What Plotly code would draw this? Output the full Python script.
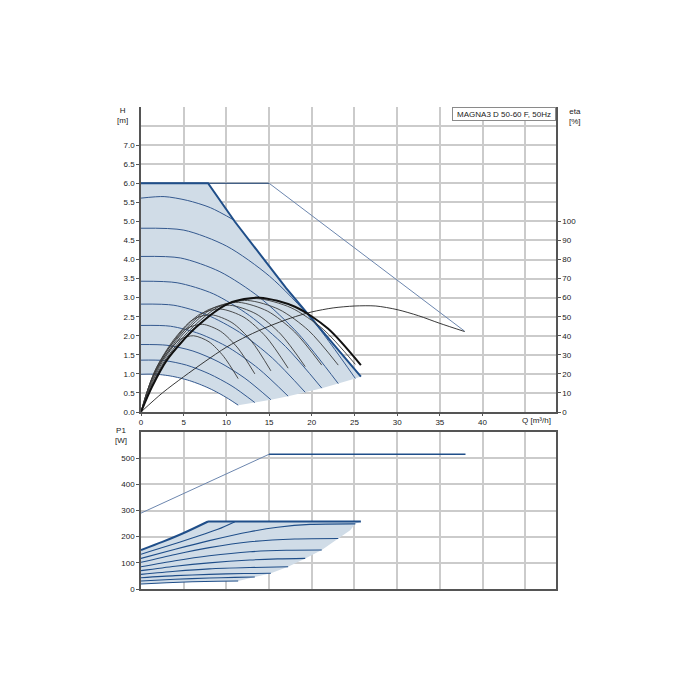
import plotly.graph_objects as go

# ---------------- DATA ----------------
# H-Q speed curves (Q in m3/h, H in m)
q_h561 = [0, 2.71, 5.42, 8.12, 11.0]
h_h561 = [5.61, 5.65, 5.55, 5.36, 5.02]
q_h482 = [0, 5.02, 10.04, 15.06, 20.08, 25.1]
h_h482 = [4.82, 4.77, 4.35, 3.56, 2.41, 0.88]
q_h408 = [0, 4.62, 9.24, 13.86, 18.48, 23.1]
h_h408 = [4.08, 4.04, 3.68, 3.01, 2.04, 0.745]
q_h343 = [0, 4.23, 8.47, 12.70, 16.94, 21.17]
h_h343 = [3.43, 3.39, 3.10, 2.53, 1.715, 0.626]
q_h283 = [0, 3.85, 7.69, 11.54, 15.38, 19.23]
h_h283 = [2.83, 2.80, 2.55, 2.09, 1.415, 0.517]
q_h227 = [0, 3.45, 6.89, 10.34, 13.78, 17.23]
h_h227 = [2.27, 2.25, 2.05, 1.68, 1.135, 0.415]
q_h177 = [0, 3.04, 6.08, 9.13, 12.17, 15.21]
h_h177 = [1.77, 1.75, 1.60, 1.31, 0.885, 0.323]
q_h136 = [0, 2.67, 5.33, 8.0, 10.66, 13.33]
h_h136 = [1.36, 1.35, 1.23, 1.00, 0.68, 0.248]
q_h099 = [0, 1.14, 2.28, 3.41, 4.55, 5.69, 6.83, 7.97, 9.10, 10.24, 11.38]
h_h099 = [0.99, 0.994, 0.98, 0.946, 0.893, 0.822, 0.731, 0.623, 0.495, 0.347, 0.18]

# max curve (constant 6 m, then power limit)
q_max = [0, 7.85, 11.0, 14.0, 17.0, 20.0, 23.0, 25.75]
h_max = [6.0, 6.0, 4.99, 4.12, 3.25, 2.45, 1.67, 0.93]
# lower (max-flow) boundary of the operating area
q_low = [25.75, 25.1, 23.1, 21.17, 19.23, 17.23, 15.21, 13.33, 11.38]
h_low = [0.93, 0.88, 0.745, 0.626, 0.517, 0.415, 0.323, 0.248, 0.18]

# 60 Hz / extended curve
q_ext = [0, 15.0, 37.9]
h_ext = [6.0, 6.0, 2.12]

# efficiency curves, eta in %
q_e1 = [0, 0.57, 1.37, 2.85, 4.55, 6.15, 7.97, 9.67, 11.38]
e_e1 = [0, 8.8, 18.4, 29.6, 38.0, 40.0, 36.8, 29.2, 17.5]
q_e2 = [0, 0.67, 1.6, 3.33, 5.33, 7.2, 9.33, 11.33, 13.33]
e_e2 = [0, 10.1, 21.2, 34.0, 43.7, 46.0, 42.3, 33.6, 20.0]
q_e3 = [0, 0.76, 1.83, 3.8, 6.08, 8.21, 10.65, 12.93, 15.21]
e_e3 = [0, 11.2, 23.5, 37.7, 48.5, 51.0, 46.9, 37.2, 21.6]
q_e4 = [0, 0.86, 2.07, 4.31, 6.89, 9.3, 12.06, 14.65, 17.23]
e_e4 = [0, 11.9, 24.8, 40.0, 51.3, 54.0, 49.7, 39.4, 23.0]
q_e5 = [0, 0.96, 2.31, 4.81, 7.69, 10.38, 13.46, 16.35, 19.23]
e_e5 = [0, 12.3, 25.8, 41.4, 53.2, 56.0, 51.5, 40.9, 23.8]
q_e6 = [0, 1.06, 2.54, 5.29, 8.47, 11.43, 14.82, 17.99, 21.17]
e_e6 = [0, 12.7, 26.5, 42.6, 54.6, 57.5, 52.9, 42.0, 24.6]
q_e7 = [0, 1.16, 2.77, 5.78, 9.24, 12.47, 16.17, 19.64, 23.1]
e_e7 = [0, 12.9, 26.9, 43.3, 55.6, 58.5, 53.8, 42.7, 24.6]
q_e8 = [0, 1.26, 3.01, 6.28, 10.04, 13.55, 17.57, 21.34, 25.1]
e_e8 = [0, 13.1, 27.4, 44.0, 56.5, 59.5, 54.7, 43.4, 25.0]
q_emax = [0, 1.29, 3.09, 6.44, 10.3, 13.9, 18.03, 21.89, 25.75]
e_emax = [0, 13.2, 27.6, 44.4, 57.0, 60.0, 55.2, 43.8, 24.6]
q_eext = [0, 2.5, 5, 7.5, 10, 12.5, 15, 17.5, 20, 22.5, 25, 27.5, 30, 32.5, 35, 37.9]
e_eext = [0, 10, 18.5, 26.5, 34, 40, 45, 49.2, 52.5, 54.6, 55.6, 55.6, 53.7, 50.5, 46.5, 42.2]

# P1 curves (W)
q_pmax = [0, 2.5, 5.0, 7.85]
p_pmax = [149, 180, 214, 258]
q_pflat = [7.85, 25.75]
p_pflat = [258, 258]
q_p561 = [0, 3, 6, 9, 11.0]
p_p561 = [133, 163, 195, 228, 257]
q_p482 = [0, 4, 8, 12.76, 16, 19.8, 25.1]
p_p482 = [117, 152, 185, 219, 236, 247, 249]
q_p408 = [0, 4, 8, 12.76, 18, 23.1]
p_p408 = [102, 132, 158, 180.5, 191, 193]
q_p343 = [0, 4, 8, 12.76, 17, 21.17]
p_p343 = [85, 108, 127, 142.5, 148, 149]
q_p283 = [0, 4, 8, 12.76, 16, 19.23]
p_p283 = [70, 87, 100, 110.7, 115, 117]
q_p227 = [0, 4, 8, 12.76, 17.23]
p_p227 = [56, 68, 77, 82, 85]
q_p177 = [0, 4, 8, 12, 15.21]
p_p177 = [43, 51, 56, 59, 60]
q_p136 = [0, 4, 8, 11, 13.33]
p_p136 = [30.5, 37, 42, 44.5, 46]
q_p099 = [0, 3, 6, 9, 11.38]
p_p099 = [19, 24, 27.5, 29.5, 30.5]
q_plow = [25.75, 25.1, 24.5, 23.1, 21.17, 19.23, 17.23, 15.21, 13.33, 11.38]
p_plow = [258, 249, 225, 193, 149, 117, 85, 60, 46, 30.5]
q_pext = [0, 15.0, 38.0]
p_pext = [290, 515, 515]

h_ticks = [0, 0.5, 1, 1.5, 2, 2.5, 3, 3.5, 4, 4.5, 5, 5.5, 6, 6.5, 7]
q_ticks = [0, 5, 10, 15, 20, 25, 30, 35, 40]
eta_ticks = [0, 10, 20, 30, 40, 50, 60, 70, 80, 90, 100]
p_ticks = [0, 100, 200, 300, 400, 500]

# ---------------- STYLE ----------------
FILL = "#D0DCE7"
DARK = "#1F4E89"
SPEED = "#34598F"
LIGHT = "#6C86AE"
GRID = "#CBCBCB"
AXIS = "#555555"
FONT = "Liberation Sans, Arial, sans-serif"

fig = go.Figure()


def line(x, y, color, width, xa="x", ya="y", shape="spline"):
    fig.add_trace(go.Scatter(x=x, y=y, mode="lines", xaxis=xa, yaxis=ya,
                             line=dict(color=color, width=width, shape=shape,
                                       smoothing=0.8),
                             hoverinfo="skip", showlegend=False))


# H operating area
poly_q = [0] + q_max + q_low + q_h099[::-1]
poly_h = [0.99] + h_max + h_low + h_h099[::-1]
fig.add_trace(go.Scatter(x=poly_q, y=poly_h, fill="toself", fillcolor=FILL,
                         mode="none", hoverinfo="skip", showlegend=False))

for qq, hh in [(q_h561, h_h561), (q_h482, h_h482), (q_h408, h_h408),
               (q_h343, h_h343), (q_h283, h_h283), (q_h227, h_h227),
               (q_h177, h_h177), (q_h136, h_h136), (q_h099, h_h099)]:
    line(qq, hh, SPEED, 1)

line(q_ext[:2], h_ext[:2], "#173E70", 1, shape="linear")
line(q_ext[1:], h_ext[1:], LIGHT, 1, shape="linear")
line(q_max, h_max, DARK, 2, shape="linear")

# efficiency curves
for qq, ee in [(q_e1, e_e1), (q_e2, e_e2), (q_e3, e_e3), (q_e4, e_e4),
               (q_e5, e_e5), (q_e6, e_e6), (q_e7, e_e7), (q_e8, e_e8)]:
    line(qq, ee, "#3A3A3A", 0.9, ya="y2")
line(q_emax, e_emax, "#111111", 2, ya="y2")
line(q_eext, e_eext, "#222222", 0.9, ya="y2")

# P1 operating area
ppoly_q = [0] + q_pmax + q_pflat[1:] + q_plow + q_p099[::-1]
ppoly_p = [19] + p_pmax + p_pflat[1:] + p_plow + p_p099[::-1]
fig.add_trace(go.Scatter(x=ppoly_q, y=ppoly_p, xaxis="x2", yaxis="y3",
                         fill="toself", fillcolor=FILL, mode="none",
                         hoverinfo="skip", showlegend=False))
for qq, pp in [(q_p561, p_p561), (q_p482, p_p482), (q_p408, p_p408),
               (q_p343, p_p343), (q_p283, p_p283), (q_p227, p_p227),
               (q_p177, p_p177), (q_p136, p_p136), (q_p099, p_p099)]:
    line(qq, pp, DARK, 1.1, xa="x2", ya="y3")
line(q_pmax, p_pmax, DARK, 2, xa="x2", ya="y3")
line(q_pflat, p_pflat, DARK, 2, xa="x2", ya="y3", shape="linear")
line(q_pext[:2], p_pext[:2], LIGHT, 1, xa="x2", ya="y3", shape="linear")
line(q_pext[1:], p_pext[1:], DARK, 1.5, xa="x2", ya="y3", shape="linear")

# ---------------- LAYOUT ----------------
# page body adds an 8 px offset; target plot box on screen: x 141-556, y 107-589
OFF = 8
X0, X1, Y0, Y1 = 141, 556, 107, 589
L, T = X0 - OFF, Y0 - OFF
R, B = 700 - (X1 - OFF), 700 - (Y1 - OFF)


def px(x):
    return (x - X0) / (X1 - X0)


def py(y):
    return (Y1 - y) / (Y1 - Y0)


tickfont = dict(family=FONT, size=8, color="#222222")
common_x = dict(range=[0, 48.6], showgrid=True, gridcolor=GRID, gridwidth=1.5,
                tickvals=q_ticks, minor=dict(tickvals=[45], showgrid=True,
                                             gridcolor=GRID, gridwidth=1.5),
                showline=True, linecolor=AXIS, linewidth=1.5, zeroline=False,
                ticks="outside", ticklen=2, tickcolor=AXIS, tickfont=tickfont)

fig.update_layout(
    width=700, height=700, paper_bgcolor="white", plot_bgcolor="white",
    margin=dict(l=L, r=R, t=T, b=B), font=dict(family=FONT, size=8),
    xaxis=dict(domain=[0, 1], anchor="y", **common_x),
    xaxis2=dict(domain=[0, 1], anchor="y3", matches="x", showticklabels=False,
                mirror=True, **{k: v for k, v in common_x.items()
                                if k not in ("ticks", "ticklen")}),
    yaxis=dict(domain=[py(412), 1], range=[0, 8], tickvals=h_ticks,
               ticktext=[f"{v:.1f}" for v in h_ticks], showgrid=True,
               gridcolor=GRID, gridwidth=1.5,
               minor=dict(tickvals=[7.5], showgrid=True, gridcolor=GRID,
                          gridwidth=1.5),
               showline=True, linecolor=AXIS, linewidth=1.5, zeroline=False,
               ticks="outside", ticklen=3, tickcolor=AXIS, tickfont=tickfont),
    yaxis2=dict(overlaying="y", side="right", range=[0, 160],
                tickvals=eta_ticks, showgrid=False, showline=True,
                linecolor=AXIS, linewidth=1.5, zeroline=False,
                ticks="outside", ticklen=3, tickcolor=AXIS, tickfont=tickfont),
    yaxis3=dict(domain=[0, py(432)], anchor="x2", range=[0, 600],
                tickvals=p_ticks, showgrid=True, gridcolor=GRID, gridwidth=1.5,
                showline=True, mirror=True, linecolor=AXIS, linewidth=1.5,
                zeroline=False, ticks="outside", ticklen=3, tickcolor=AXIS,
                tickfont=tickfont),
)

afont = dict(family=FONT, size=8, color="#222222")
ann = [
    dict(x=px(122), y=py(115), text="H<br>[m]", xanchor="center"),
    dict(x=px(575), y=py(116), text="eta<br>[%]", xanchor="center"),
    dict(x=px(121), y=py(435), text="P1<br>[W]", xanchor="center"),
    dict(x=px(553), y=py(420), text="Q [m³/h]", xanchor="right"),
]
for a in ann:
    fig.add_annotation(xref="paper", yref="paper", showarrow=False,
                       yanchor="middle", font=afont, **a)
fig.add_annotation(xref="paper", yref="paper", x=1, y=1, xanchor="right",
                   yanchor="top", showarrow=False,
                   text="MAGNA3 D 50-60 F, 50Hz", font=afont, bgcolor="white",
                   bordercolor="#8A8A8A", borderwidth=1, borderpad=1,
                   width=100, height=10)

fig.write_html("out.html")
